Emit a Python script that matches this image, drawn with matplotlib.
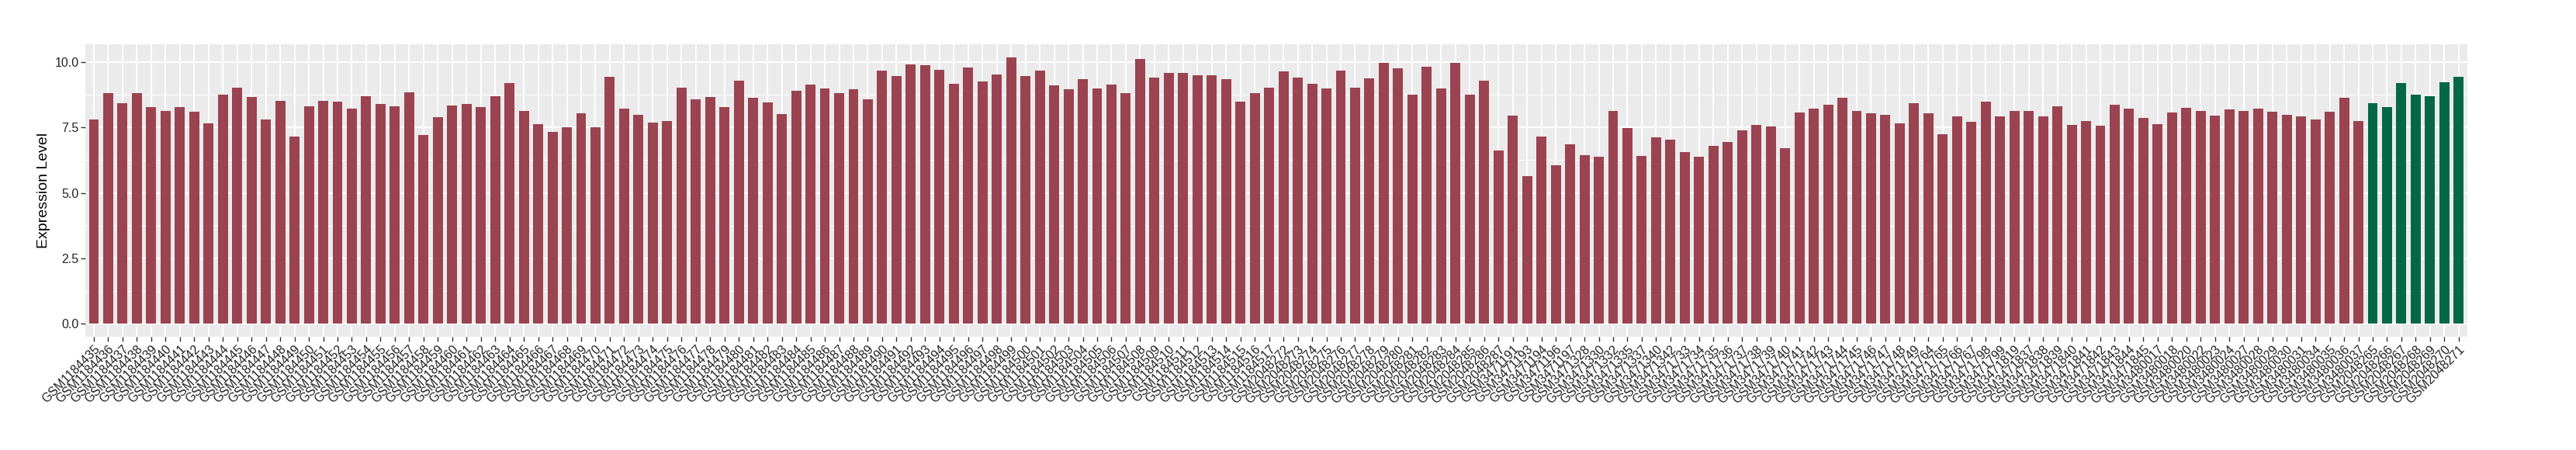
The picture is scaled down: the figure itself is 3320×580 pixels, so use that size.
import numpy as np
import matplotlib
matplotlib.use("Agg")
import matplotlib.pyplot as plt
from matplotlib.ticker import FixedLocator, FormatStrFormatter

plt.rcParams['font.family'] = ['Liberation Sans', 'DejaVu Sans']

# sample ids, in plotting order
samples = (
    [f"GSM{n}" for n in range(1184435, 1184518)]
    + [f"GSM{n}" for n in range(2048272, 2048288)]
    + ["GSM3471191", "GSM3471193", "GSM3471194", "GSM3471196", "GSM3471197"]
    + ["GSM3471328", "GSM3471330", "GSM3471332", "GSM3471335", "GSM3471337",
       "GSM3471340", "GSM3471342"]
    + [f"GSM{n}" for n in range(3471733, 3471750)]
    + ["GSM3471764", "GSM3471765", "GSM3471766", "GSM3471767",
       "GSM3471798", "GSM3471799", "GSM3471819"]
    + [f"GSM{n}" for n in range(3471837, 3471846)]
    + ["GSM3480017", "GSM3480018", "GSM3480020", "GSM3480022", "GSM3480023",
       "GSM3480024", "GSM3480027", "GSM3480028", "GSM3480029", "GSM3480030",
       "GSM3480031", "GSM3480034", "GSM3480035", "GSM3480036", "GSM3480037"]
    + [f"GSM{n}" for n in range(2048265, 2048272)]
)

expression = [
    7.81, 8.82, 8.43, 8.82, 8.28, 8.13, 8.28, 8.10, 7.65, 8.76,
    9.03, 8.67, 7.81, 8.52, 7.15, 8.31, 8.52, 8.49, 8.23, 8.70,
    8.40, 8.31, 8.85, 7.21, 7.90, 8.34, 8.40, 8.28, 8.70, 9.20,
    8.13, 7.63, 7.33, 7.51, 8.04, 7.51, 9.45, 8.23, 7.98, 7.68,
    7.74, 9.03, 8.57, 8.67, 8.28, 9.29, 8.64, 8.46, 8.01, 8.90,
    9.15, 9.00, 8.82, 8.96, 8.57, 9.68, 9.48, 9.92, 9.89, 9.71,
    9.18, 9.81, 9.26, 9.53, 10.18, 9.48, 9.68, 9.12, 8.96, 9.35,
    9.00, 9.15, 8.82, 10.12, 9.42, 9.59, 9.59, 9.50, 9.50, 9.35,
    8.49, 8.82, 9.03, 9.65, 9.42, 9.18, 9.00, 9.68, 9.03, 9.38,
    9.98, 9.77, 8.76, 9.83, 9.00, 9.98, 8.76, 9.29, 6.62, 7.95,
    5.63, 7.15, 6.05, 6.85, 6.43, 6.38, 8.13, 7.48, 6.41, 7.12,
    7.03, 6.55, 6.38, 6.79, 6.94, 7.38, 7.60, 7.54, 6.71, 8.07,
    8.23, 8.37, 8.64, 8.13, 8.04, 7.98, 7.65, 8.43, 8.04, 7.24,
    7.93, 7.71, 8.49, 7.93, 8.13, 8.13, 7.93, 8.31, 7.60, 7.74,
    7.57, 8.37, 8.23, 7.87, 7.63, 8.07, 8.26, 8.13, 7.95, 8.19,
    8.13, 8.23, 8.10, 7.98, 7.93, 7.81, 8.10, 8.64, 7.74,
    8.43, 8.28, 9.20, 8.76, 8.70, 9.23, 9.45,
]

# last 7 samples belong to the second group
group = ["other"] * (len(samples) - 7) + ["highlight"] * 7
colors = {"other": "#9B4351", "highlight": "#046847"}

fig = plt.figure(figsize=(33.2, 5.8), dpi=100)
ax = fig.add_axes([0.0331, 0.2517, 0.9247, 0.650])

x = np.arange(len(samples))
ax.bar(x, expression, width=0.7, color=[colors[g] for g in group], zorder=3)

ymax = max(expression)
ax.set_xlim(-0.6, len(samples) - 0.4)
ax.set_ylim(-0.05 * ymax, 1.05 * ymax)

ax.set_facecolor("#EBEBEB")
for s in ax.spines.values():
    s.set_visible(False)

ax.yaxis.set_major_locator(FixedLocator([0, 2.5, 5, 7.5, 10]))
ax.yaxis.set_minor_locator(FixedLocator([1.25, 3.75, 6.25, 8.75]))
ax.yaxis.set_major_formatter(FormatStrFormatter("%.1f"))
ax.grid(True, which="major", color="white", linewidth=1.4, zorder=0)
ax.grid(True, which="minor", axis="y", color="white", linewidth=0.7, zorder=0)

ax.set_xticks(x)
ax.set_xticklabels(samples, rotation=45, ha="right", va="top",
                   rotation_mode="anchor")
ax.tick_params(axis="both", which="major", length=4, width=1, color="#333333",
               labelsize=11.5, labelcolor="#222222", pad=2)
ax.tick_params(axis="y", which="minor", length=0)

ax.set_ylabel("Expression Level", fontsize=14, labelpad=4)

fig.savefig("out.png", dpi=100)
